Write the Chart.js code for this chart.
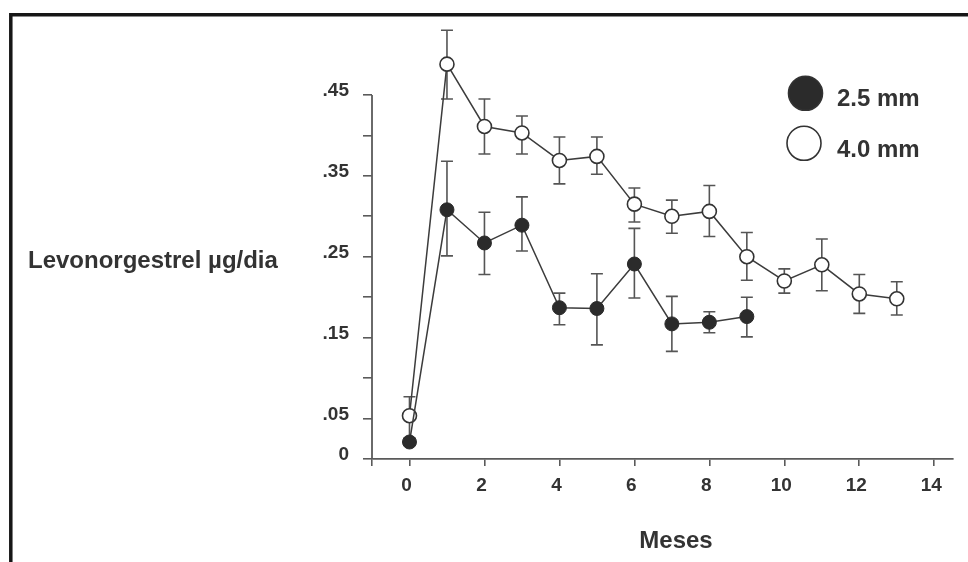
<!DOCTYPE html>
<html>
<head>
<meta charset="utf-8">
<script src="https://cdn.jsdelivr.net/npm/chart.js@4.4.1/dist/chart.umd.min.js"></script>
<style>
  html, body { margin: 0; padding: 0; background: #ffffff; }
  #wrap { width: 968px; height: 562px; position: relative; }
</style>
</head>
<body>
<div id="wrap"><canvas id="c" width="968" height="562"></canvas></div>
<script>
// ---- data ----
const months25 = [0, 1, 2, 3, 4, 5, 6, 7, 8, 9];
const mean25   = [0.021, 0.308, 0.267, 0.289, 0.187, 0.186, 0.241, 0.167, 0.169, 0.176];
const upper25  = [null, 0.368, 0.305, 0.324, 0.205, 0.229, 0.285, 0.201, 0.182, 0.200];
const lower25  = [null, 0.251, 0.228, 0.257, 0.166, 0.141, 0.199, 0.133, 0.156, 0.151];

const months40 = [0, 1, 2, 3, 4, 5, 6, 7, 8, 9, 10, 11, 12, 13];
const mean40   = [0.0535, 0.488, 0.411, 0.403, 0.369, 0.374, 0.315, 0.300, 0.306, 0.250, 0.220, 0.240, 0.204, 0.198];
const upper40  = [0.077, 0.530, 0.445, 0.424, 0.398, 0.398, 0.335, 0.320, 0.338, 0.280, 0.235, 0.272, 0.228, 0.219];
const lower40  = [0.026, 0.445, 0.377, 0.377, 0.340, 0.352, 0.293, 0.279, 0.275, 0.221, 0.205, 0.208, 0.180, 0.178];

const xTickValues = [-1, 0, 2, 4, 6, 8, 10, 12, 14];
const yTickValues = [0, 0.05, 0.10, 0.15, 0.20, 0.25, 0.30, 0.35, 0.40, 0.45];
const yLabelled   = ['0', '.05', '.15', '.25', '.35', '.45'];
const yAxisTop = 0.45;

const legendLabels = ['2.5 mm', '4.0 mm'];
const xTitle = 'Meses';
const yTitle = 'Levonorgestrel µg/dia';

const FONT = "'Liberation Sans', Arial, Helvetica, sans-serif";
const TEXT = '#333333';
const AXIS = '#5a5a5a';

function pts(xs, ys) { return xs.map((x, i) => ({ x: x, y: ys[i] })); }
function fmtY(v) {
  const s = v === 0 ? '0' : v.toFixed(2).replace(/^0\./, '.');
  return yLabelled.includes(s) ? s : '';
}

const errorBars = {
  id: 'errorBars',
  beforeDatasetsDraw(chart) {
    const ctx = chart.ctx, xs = chart.scales.x, ys = chart.scales.y;
    ctx.save();
    // y axis line (only up to the top tick)
    ctx.strokeStyle = AXIS;
    ctx.lineWidth = 1.8;
    ctx.beginPath();
    ctx.moveTo(chart.chartArea.left, ys.getPixelForValue(0));
    ctx.lineTo(chart.chartArea.left, ys.getPixelForValue(yAxisTop));
    ctx.stroke();

    const sets = [[months40, upper40, lower40], [months25, upper25, lower25]];
    ctx.strokeStyle = '#555555';
    ctx.lineWidth = 1.6;
    const cap = 6;
    sets.forEach(([mx, up, lo]) => {
      mx.forEach((m, i) => {
        if (up[i] == null || lo[i] == null) return;
        const px = xs.getPixelForValue(m);
        const pt = ys.getPixelForValue(up[i]);
        const pb = ys.getPixelForValue(lo[i]);
        ctx.beginPath();
        ctx.moveTo(px, pt); ctx.lineTo(px, pb);
        ctx.moveTo(px - cap, pt); ctx.lineTo(px + cap, pt);
        ctx.moveTo(px - cap, pb); ctx.lineTo(px + cap, pb);
        ctx.stroke();
      });
    });
    ctx.restore();
  }
};

const decorations = {
  id: 'decorations',
  afterDraw(chart) {
    const ctx = chart.ctx;
    ctx.save();
    // frame
    ctx.strokeStyle = '#161616';
    ctx.lineWidth = 3.5;
    ctx.beginPath();
    ctx.moveTo(10.8, 600);
    ctx.lineTo(10.8, 14.8);
    ctx.lineTo(1000, 14.8);
    ctx.stroke();

    ctx.fillStyle = TEXT;
    ctx.textBaseline = 'middle';
    ctx.font = 'bold 24px ' + FONT;
    ctx.textAlign = 'left';
    ctx.fillText(yTitle, 28, 261);
    ctx.textAlign = 'center';
    ctx.fillText(xTitle, 676, 541);

    // legend
    const ds = chart.data.datasets;
    const entries = [
      { cy: 93.3, ty: 99.5, fill: ds[0].pointBackgroundColor, cx: 805.5 },
      { cy: 143.3, ty: 150.5, fill: ds[1].pointBackgroundColor, cx: 804 }
    ];
    entries.forEach((e, i) => {
      ctx.beginPath();
      ctx.arc(e.cx, e.cy, 17, 0, Math.PI * 2);
      ctx.fillStyle = e.fill;
      ctx.fill();
      ctx.lineWidth = 1.6;
      ctx.strokeStyle = '#333333';
      ctx.stroke();
      ctx.fillStyle = TEXT;
      ctx.textAlign = 'left';
      ctx.font = 'bold 24px ' + FONT;
      ctx.fillText(legendLabels[i], 837, e.ty);
    });
    ctx.restore();
  }
};

new Chart(document.getElementById('c'), {
  type: 'line',
  data: {
    datasets: [
      {
        label: legendLabels[0],
        data: pts(months25, mean25),
        borderColor: '#3c3c3c',
        borderWidth: 1.5,
        pointRadius: 7,
        pointBackgroundColor: '#2b2b2b',
        pointBorderColor: '#2b2b2b',
        pointBorderWidth: 1,
        tension: 0,
        clip: false
      },
      {
        label: legendLabels[1],
        data: pts(months40, mean40),
        borderColor: '#3c3c3c',
        borderWidth: 1.5,
        pointRadius: 7,
        pointBackgroundColor: '#ffffff',
        pointBorderColor: '#333333',
        pointBorderWidth: 1.6,
        tension: 0,
        clip: false
      }
    ]
  },
  options: {
    responsive: false,
    animation: false,
    devicePixelRatio: 1,
    layout: { padding: { top: 14, right: 15, left: 0, bottom: 0 } },
    plugins: { legend: { display: false }, tooltip: { enabled: false }, title: { display: false } },
    scales: {
      x: {
        type: 'linear',
        min: -1,
        max: 14.5,
        afterBuildTicks: s => { s.ticks = xTickValues.map(v => ({ value: v })); },
        afterFit: s => { s.height = 103; s.paddingLeft = 0; s.paddingRight = 0; },
        ticks: {
          callback: v => (v < 0 ? '' : String(v)),
          color: TEXT,
          font: { family: FONT, size: 19, weight: 'bold' },
          padding: 8,
          labelOffset: -3,
          maxRotation: 0,
          autoSkip: false
        },
        grid: { drawOnChartArea: false, drawTicks: true, tickLength: 7, color: AXIS, lineWidth: 1.6 },
        border: { display: true, color: AXIS, width: 1.8 }
      },
      y: {
        type: 'linear',
        min: 0,
        max: 0.55,
        afterBuildTicks: s => { s.ticks = yTickValues.map(v => ({ value: v })); },
        afterFit: s => { s.width = 372; s.paddingTop = 0; s.paddingBottom = 0; },
        ticks: {
          callback: v => fmtY(v),
          color: TEXT,
          font: { family: FONT, size: 19, weight: 'bold' },
          padding: 14,
          labelOffset: -4,
          autoSkip: false
        },
        grid: { drawOnChartArea: false, drawTicks: true, tickLength: 9, color: AXIS, lineWidth: 1.6 },
        border: { display: false }
      }
    }
  },
  plugins: [errorBars, decorations]
});
</script>
</body>
</html>
